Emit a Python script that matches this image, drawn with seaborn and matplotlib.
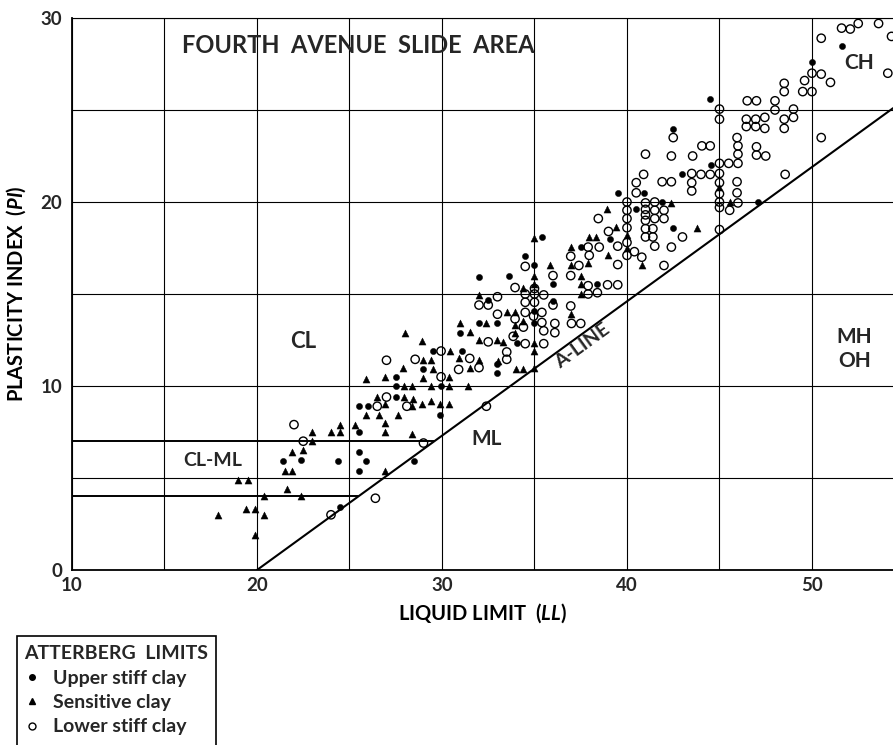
import matplotlib
matplotlib.use("Agg")
import matplotlib.pyplot as plt
import matplotlib.patches as mpatches
import seaborn as sns
import pandas as pd
from matplotlib.lines import Line2D

# ---------------- data (LL, PI) ----------------
upper_pts = [
    (21.4, 5.9), (22.4, 6.0), (24.4, 5.9), (24.5, 3.4),
    (25.5, 8.9), (26.0, 8.9), (27.5, 9.4), (27.5, 10.0), (25.5, 7.5), (25.5, 6.4),
    (25.9, 5.9), (25.5, 5.4), (28.5, 5.9), (29.9, 8.4), (29.95, 10.0), (27.5, 10.5),
    (29.0, 10.9), (29.5, 11.9), (31.1, 11.9), (31.0, 12.9), (32.0, 13.4), (33.0, 13.4),
    (32.0, 15.9), (32.5, 14.7), (33.0, 11.2), (33.0, 10.7),
    (35.4, 18.1), (34.5, 17.05), (35.0, 16.55), (36.0, 15.55), (37.5, 17.55), (33.6, 16.0),
    (35.0, 14.1), (36.0, 14.6), (35.0, 13.45), (34.05, 12.35),
    (42.5, 23.95), (43.0, 21.5), (40.9, 20.5), (39.5, 20.5), (40.5, 19.6), (41.9, 20.0),
    (42.5, 18.6), (39.1, 18.0), (38.4, 15.55),
    (51.6, 28.5), (50.0, 27.6), (44.5, 25.6), (44.55, 22.0), (47.1, 20.0),
]

sensitive_pts = [
    (17.9, 3.0), (19.0, 4.9), (19.5, 4.9), (19.4, 3.3), (19.9, 3.3), (19.9, 1.9),
    (20.4, 4.0), (20.4, 3.0), (21.5, 5.4), (21.9, 5.4), (21.6, 4.4), (21.9, 6.4),
    (22.5, 6.5), (22.4, 4.0), (23.0, 7.5), (23.0, 7.0), (24.0, 7.5), (24.5, 7.5), (24.5, 7.9),
    (25.3, 7.9), (26.5, 9.4), (27.95, 9.4), (28.45, 9.3), (26.9, 9.0), (28.4, 8.9),
    (28.9, 9.0), (29.4, 9.2), (29.9, 9.0), (30.4, 9.0), (25.9, 8.4), (26.6, 8.4),
    (27.6, 8.4), (26.9, 8.0), (26.9, 7.5), (28.4, 7.4), (26.9, 5.4),
    (27.95, 10.0), (28.4, 10.0), (29.4, 10.0), (30.4, 10.0), (31.4, 10.0),
    (25.9, 10.4), (26.9, 10.5), (27.9, 11.0), (29.5, 10.9), (30.4, 10.5), (29.0, 10.45),
    (29.0, 11.4), (29.4, 11.4), (30.9, 11.5), (32.0, 11.4), (31.5, 11.0), (30.45, 11.9),
    (28.0, 12.9), (28.9, 12.45), (31.0, 13.4), (32.4, 13.4), (31.5, 12.95), (32.0, 12.5),
    (33.0, 12.5), (32.0, 14.95),
    (35.0, 18.05), (35.85, 16.6), (36.96, 16.55), (37.5, 16.0), (37.5, 15.55), (36.97, 17.55),
    (37.5, 15.0), (35.0, 16.0), (35.0, 15.55), (34.4, 15.35), (33.5, 14.0), (33.95, 14.0),
    (36.96, 13.9), (33.95, 13.3), (33.95, 12.9), (34.4, 13.55), (33.3, 12.4), (34.95, 12.35),
    (33.05, 11.35), (34.0, 10.95), (34.4, 10.95), (35.0, 11.0), (35.0, 11.9),
    (42.4, 19.95), (40.0, 18.2), (40.0, 17.5), (39.4, 18.65), (38.9, 19.6), (37.96, 18.1),
    (38.35, 18.1), (39.0, 17.1), (37.9, 16.7), (40.8, 16.55),
    (45.0, 20.8), (45.55, 20.0), (43.8, 18.6),
]

lower_pts = [
    (22.0, 7.9), (22.5, 7.0), (24.0, 3.0),
    (27.0, 9.4), (26.5, 8.9), (28.1, 8.9), (29.0, 6.9), (26.4, 3.9), (32.4, 8.9),
    (29.95, 10.5), (30.9, 10.9), (27.0, 11.4), (28.55, 11.45), (31.5, 11.5), (32.0, 11.0),
    (29.95, 11.9), (32.5, 12.4), (32.0, 14.4), (32.5, 14.4), (33.0, 14.85), (33.0, 13.9),
    (34.5, 16.5), (36.0, 16.0), (36.96, 17.05), (36.96, 16.0), (37.4, 16.55), (37.9, 17.55),
    (37.9, 15.45), (37.9, 15.0), (33.95, 15.35), (35.0, 15.3), (34.5, 15.0), (35.0, 15.0),
    (35.5, 14.95), (34.5, 14.55), (35.0, 14.55), (35.4, 14.0), (36.0, 14.4), (36.96, 14.35),
    (34.5, 14.0), (34.95, 13.8), (33.95, 13.65), (34.4, 13.2), (35.4, 13.45), (35.5, 13.0),
    (36.1, 13.4), (36.1, 12.9), (37.0, 13.4), (37.5, 13.4), (33.85, 12.7), (35.5, 12.3),
    (34.5, 12.3), (33.5, 11.85), (33.5, 11.45),
    (42.5, 23.5), (41.0, 22.6), (42.4, 22.5), (40.9, 21.5), (40.5, 21.05), (40.5, 20.5),
    (41.9, 21.1), (42.4, 21.1), (40.0, 20.0), (40.0, 19.55), (40.0, 19.1), (40.0, 18.6),
    (41.0, 19.95), (41.0, 19.6), (41.0, 19.3), (41.0, 19.0), (41.5, 20.0), (41.5, 19.55),
    (41.5, 19.1), (42.0, 19.55), (42.0, 19.1), (41.0, 18.55), (41.4, 18.55), (41.0, 18.1),
    (41.4, 18.1), (41.5, 17.6), (42.4, 17.55), (43.0, 18.1), (40.0, 17.8), (40.0, 17.1),
    (40.4, 17.3), (40.8, 17.0), (39.5, 17.6), (39.0, 18.4), (38.45, 19.1), (38.5, 17.55),
    (37.96, 17.1), (39.5, 16.6), (42.0, 16.55), (38.95, 15.5), (39.5, 15.5), (38.4, 15.07),
    (51.6, 29.45), (52.07, 29.4), (52.5, 29.7), (53.6, 29.7), (50.5, 28.9), (54.3, 29.0),
    (54.1, 27.0), (50.0, 27.0), (50.5, 26.95), (51.0, 26.5), (49.6, 26.6), (49.5, 26.0),
    (50.0, 26.0), (48.5, 26.45), (48.5, 26.0), (46.5, 25.5), (47.0, 25.5), (48.0, 25.5),
    (48.0, 25.0), (49.0, 25.05), (49.0, 24.6), (48.5, 24.5), (48.5, 24.0), (46.45, 24.5),
    (46.96, 24.5), (47.45, 24.6), (46.45, 24.1), (46.96, 24.1), (47.45, 24.0), (45.0, 25.05),
    (45.0, 24.5), (50.5, 23.5), (45.95, 23.5), (46.0, 23.05), (46.0, 22.6), (46.0, 22.1),
    (43.55, 22.5), (44.05, 23.05), (44.5, 23.05), (47.0, 23.0), (47.0, 22.55), (47.5, 22.5),
    (45.0, 22.1), (45.5, 22.1), (43.5, 21.55), (44.0, 21.5), (44.5, 21.5), (45.0, 21.55),
    (43.5, 21.05), (43.5, 20.6), (45.0, 21.05), (45.0, 20.45), (45.95, 21.1), (45.95, 20.5),
    (48.55, 21.5), (45.0, 20.0), (45.0, 19.7), (45.55, 19.55), (46.0, 19.95), (45.0, 18.5),
]

group_names = ["Upper stiff clay", "Sensitive clay", "Lower stiff clay"]
x_ticks = [10, 20, 30, 40, 50]
y_ticks = [0, 10, 20, 30]
grid_step = 5
aline_slope, aline_ll0 = 0.73, 20.0   # A-line: PI = 0.73 (LL - 20)
clml_upper, clml_lower = 7.0, 4.0      # CL-ML band limits
x_range = (10, 54.38)
y_range = (0, 30)

# ---------------- style ----------------
sns.set_theme(style="white")
plt.rcParams["font.family"] = ["Lato", "DejaVu Sans"]
plt.rcParams["font.weight"] = "bold"
plt.rcParams["mathtext.fontset"] = "custom"
plt.rcParams["mathtext.it"] = "Lato:italic:bold"
plt.rcParams["mathtext.rm"] = "Lato:bold"

df = pd.concat([
    pd.DataFrame(upper_pts, columns=["LL", "PI"]).assign(group=group_names[0]),
    pd.DataFrame(sensitive_pts, columns=["LL", "PI"]).assign(group=group_names[1]),
    pd.DataFrame(lower_pts, columns=["LL", "PI"]).assign(group=group_names[2]),
], ignore_index=True)

fig = plt.figure(figsize=(8.93, 7.45), dpi=100)
ax = fig.add_axes([72 / 893, 1 - 570 / 745, 1 - 72 / 893, (570 - 18) / 745])

# grid
ax.set_xlim(*x_range)
ax.set_ylim(*y_range)
ax.set_xticks(x_ticks)
ax.set_yticks(y_ticks)
ax.set_xticks([v for v in range(10, 55, grid_step)], minor=True)
ax.set_yticks([v for v in range(0, 31, grid_step)], minor=True)
ax.grid(True, which="both", color="black", linewidth=0.8)
ax.set_axisbelow(True)
ax.tick_params(which="both", length=0)
ax.tick_params(axis="x", pad=5, labelsize=13.5)
ax.tick_params(axis="y", pad=7, labelsize=13.5)
for lab in ax.get_xticklabels() + ax.get_yticklabels():
    lab.set_fontweight("bold")

for side in ["left", "bottom"]:
    ax.spines[side].set_color("black")
    ax.spines[side].set_linewidth(1.3)
ax.spines["top"].set_color("black")
ax.spines["top"].set_linewidth(0.8)
ax.spines["right"].set_visible(False)

# A-line and CL-ML band
ax.plot([aline_ll0, x_range[1]], [0, aline_slope * (x_range[1] - aline_ll0)],
        color="black", linewidth=1.5, zorder=2)
for lvl in (clml_upper, clml_lower):
    ax.plot([x_range[0], aline_ll0 + lvl / aline_slope], [lvl, lvl],
            color="black", linewidth=1.4, zorder=2)

# points
sub = df[df.group == group_names[2]]
sns.scatterplot(data=sub, x="LL", y="PI", marker="o", s=36, facecolors="none",
                edgecolor="black", linewidth=1.0, ax=ax, zorder=3, legend=False)
sub = df[df.group == group_names[1]]
sns.scatterplot(data=sub, x="LL", y="PI", marker="^", s=26, color="black",
                edgecolor="black", linewidth=0.3, ax=ax, zorder=4, legend=False)
sub = df[df.group == group_names[0]]
sns.scatterplot(data=sub, x="LL", y="PI", marker="o", s=20, color="black",
                edgecolor="black", linewidth=0.3, ax=ax, zorder=4, legend=False)

ax.set_xlabel(r"LIQUID LIMIT  ($\mathit{LL}$)", fontsize=14.5, fontweight="bold",
              labelpad=5, color="black")
ax.set_ylabel(r"PLASTICITY INDEX  ($\mathit{PI}$)", fontsize=14.5, fontweight="bold",
              labelpad=9, color="black")

# region labels
ax.text(25.5, 28.5, "FOURTH  AVENUE  SLIDE  AREA", fontsize=17, fontweight="bold",
        ha="center", va="center")
ax.text(22.5, 12.4, "CL", fontsize=16, fontweight="bold", ha="center", va="center")
ax.text(17.6, 5.95, "CL-ML", fontsize=14, fontweight="bold", ha="center", va="center")
ax.text(32.4, 7.1, "ML", fontsize=15, fontweight="bold", ha="center", va="center")
ax.text(37.6, 12.2, "A-LINE", fontsize=14, fontweight="bold", ha="center", va="center",
        rotation=36)
ax.text(52.3, 12.0, "MH\nOH", fontsize=15, fontweight="bold", ha="center", va="center",
        linespacing=1.25)
ax.text(52.55, 27.55, "CH", fontsize=15, fontweight="bold", ha="center", va="center")

# legend (frame drawn separately so that it runs off the bottom edge)
handles = [
    Line2D([], [], linestyle="none", marker="o", markersize=4, color="black"),
    Line2D([], [], linestyle="none", marker="^", markersize=4.5, color="black"),
    Line2D([], [], linestyle="none", marker="o", markersize=5, markerfacecolor="none",
           markeredgecolor="black", markeredgewidth=1.0),
]
leg = fig.legend(handles, group_names, loc="upper left",
                 bbox_to_anchor=(16 / 893, 1 - 637 / 745), borderaxespad=0,
                 title="ATTERBERG  LIMITS", frameon=False,
                 fontsize=14, title_fontsize=14,
                 handlelength=0.8, handletextpad=0.7, labelspacing=0.38,
                 borderpad=0.42)
leg.get_title().set_fontweight("bold")
for t in leg.get_texts():
    t.set_fontweight("bold")
leg._legend_box.align = "left"

fig.canvas.draw()
bb = leg.get_window_extent().transformed(fig.transFigure.inverted())
box_left = 17 / 893
box_top = 1 - 636 / 745
box = mpatches.Rectangle((box_left, -0.05), (bb.x1 - box_left), box_top + 0.05,
                         transform=fig.transFigure, fill=False, edgecolor="black",
                         linewidth=1.2, clip_on=False)
fig.add_artist(box)

fig.savefig("out.png", dpi=100)
